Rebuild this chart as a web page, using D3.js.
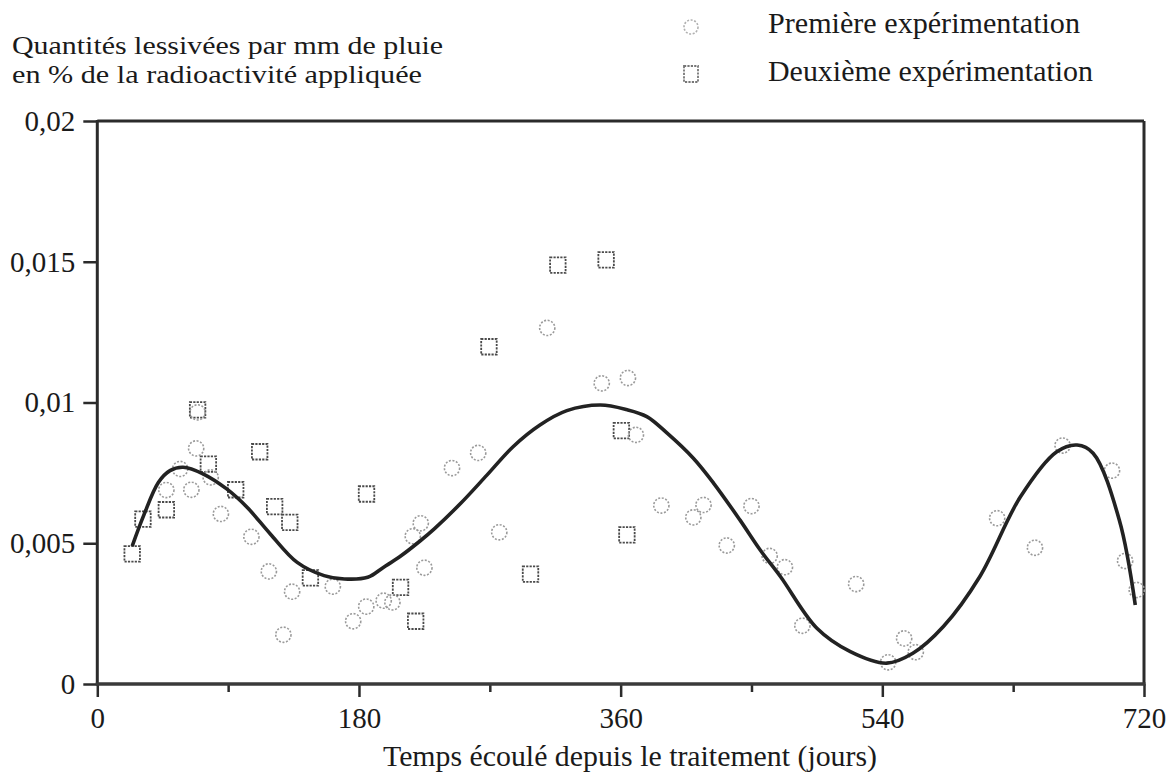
<!DOCTYPE html>
<html>
<head>
<meta charset="utf-8">
<script src="https://cdn.jsdelivr.net/npm/d3@7"></script>
<style>
  html, body { margin: 0; padding: 0; background: #fff; }
  svg { display: block; }
  text { font-family: "Liberation Serif", "Times New Roman", serif; fill: #1a1a1a; }
</style>
</head>
<body>
<svg id="chart" width="1176" height="772"></svg>
<script>
// ---------- data ----------
const titleLines = ["Quantités lessivées par mm de pluie", "en % de la radioactivité appliquée"];
const legendLabels = ["Première expérimentation", "Deuxième expérimentation"];
const xTitle = "Temps écoulé depuis le traitement (jours)";

const xMajorTicks = [0, 180, 360, 540, 720];
const xMinorTicks = [90, 270, 450, 630];
const yTicks = [0, 0.005, 0.01, 0.015, 0.02];
const yTickLabels = ["0", "0,005", "0,01", "0,015", "0,02"];

// Première expérimentation (circles): [jours, valeur]
const premiere = [
  [69, 0.00965], [68, 0.00837], [57, 0.00764], [47.5, 0.00689], [64.7, 0.0069],
  [78, 0.00734], [85, 0.00604], [106, 0.00523], [118, 0.0040], [134, 0.00328],
  [128, 0.00175], [162, 0.00346], [176, 0.00223], [185, 0.00275], [197, 0.00296],
  [203, 0.0029], [217, 0.00525], [222.5, 0.00571], [225, 0.00413], [244, 0.00767],
  [262, 0.00821], [276.5, 0.00539], [309.5, 0.01265], [347, 0.01068], [365, 0.01087],
  [370.5, 0.00885], [388, 0.00634], [417, 0.00636], [410, 0.00592], [450, 0.00632],
  [433, 0.00492], [462.5, 0.00455], [473, 0.00415], [522, 0.00355], [485, 0.00207],
  [555, 0.00162], [563, 0.00113], [544, 0.00077], [619, 0.00589], [645, 0.00484],
  [664, 0.00847], [698, 0.00758], [707, 0.00437], [715, 0.00334]
];

// Deuxième expérimentation (squares)
const deuxieme = [
  [24, 0.00462], [31.4, 0.00586], [47.5, 0.00619], [69, 0.00974], [76.4, 0.00781],
  [95.2, 0.0069], [111.7, 0.00825], [122, 0.0063], [132.4, 0.00574], [146.6, 0.00377],
  [185.2, 0.00675], [208.6, 0.00343], [219, 0.00223], [269.4, 0.01198], [298, 0.0039],
  [316.8, 0.01488], [350, 0.01507], [360.5, 0.009], [364.3, 0.0053]
];

// Ajustement (smooth curve)
const courbe = [
  [24, 0.0049], [32, 0.0060], [42, 0.00716], [50, 0.00758], [59, 0.0077],
  [73, 0.00746], [89, 0.00693], [103, 0.00628], [119, 0.00533], [137.5, 0.00432],
  [156, 0.00385], [170, 0.00373], [186, 0.00379], [197, 0.00415], [208, 0.00452],
  [222, 0.00508], [232, 0.00552], [250, 0.00642], [268, 0.00742], [286, 0.00843],
  [304.5, 0.0092], [323, 0.00971], [346, 0.00991], [364, 0.00975], [378, 0.0095],
  [392, 0.00891], [410, 0.00802], [424, 0.00713], [442, 0.00583], [456, 0.00476],
  [470, 0.00381], [495, 0.00198], [518, 0.00115], [543, 0.00074], [561, 0.00109],
  [582, 0.00204], [607, 0.00381], [635, 0.00665], [660, 0.00825], [674, 0.00849],
  [685, 0.0082], [703, 0.00583], [714, 0.00281]
];

// ---------- drawing ----------
const svg = d3.select("#chart");
const axisColor = "#2b2b2b";

const x = d3.scaleLinear().domain([0, 720]).range([97.3, 1144]);
const y = d3.scaleLinear().domain([0, 0.02]).range([684, 121]);

// frame (top + right)
svg.append("line").attr("x1", x(0)).attr("x2", x(720)).attr("y1", y(0.02)).attr("y2", y(0.02))
  .attr("stroke", axisColor).attr("stroke-width", 3);
svg.append("line").attr("x1", x(720)).attr("x2", x(720)).attr("y1", y(0.02)).attr("y2", y(0))
  .attr("stroke", axisColor).attr("stroke-width", 3);

// y axis
const yAxis = d3.axisLeft(y).tickValues(yTicks).tickSize(14).tickPadding(8)
  .tickFormat((d, i) => yTickLabels[i]);
const gy = svg.append("g").attr("transform", `translate(${x(0)},0)`).call(yAxis);
gy.select(".domain").remove();
gy.selectAll(".tick line").attr("stroke", axisColor).attr("stroke-width", 2.5);
gy.selectAll(".tick text").attr("font-size", 29).attr("fill", "#1a1a1a")
  .style("font-family", '"Liberation Serif", serif');
svg.append("line").attr("x1", x(0)).attr("x2", x(0)).attr("y1", y(0.02) - 1).attr("y2", y(0))
  .attr("stroke", axisColor).attr("stroke-width", 3);

// x axis
const xAxis = d3.axisBottom(x).tickValues(xMajorTicks).tickSize(13).tickFormat(d3.format("d"));
const gx = svg.append("g").attr("transform", `translate(0,${y(0)})`).call(xAxis);
gx.select(".domain").remove();
gx.selectAll(".tick line").attr("stroke", axisColor).attr("stroke-width", 2.5);
gx.selectAll(".tick text").attr("font-size", 29).attr("fill", "#1a1a1a")
  .attr("y", 44).attr("dy", 0)
  .style("font-family", '"Liberation Serif", serif');
const xAxisMinor = d3.axisBottom(x).tickValues(xMinorTicks).tickSize(8).tickFormat("");
const gxm = svg.append("g").attr("transform", `translate(0,${y(0)})`).call(xAxisMinor);
gxm.select(".domain").remove();
gxm.selectAll(".tick line").attr("stroke", axisColor).attr("stroke-width", 2.5);
svg.append("line").attr("x1", x(0) - 1.5).attr("x2", x(720) + 1.5).attr("y1", y(0)).attr("y2", y(0))
  .attr("stroke", "#3a3a3a").attr("stroke-width", 3.5);

// markers
const circleStyle = sel => sel.attr("fill", "none").attr("stroke", "#9a9a9a")
  .attr("stroke-width", 1.6).attr("stroke-dasharray", "2,1.6");
const squareStyle = sel => sel.attr("fill", "none").attr("stroke", "#4a4a4a")
  .attr("stroke-width", 1.8).attr("stroke-dasharray", "2.2,1.2");

const sq = 15.5;
svg.append("g").selectAll("rect").data(deuxieme).join("rect")
  .attr("x", d => x(d[0]) - sq / 2).attr("y", d => y(d[1]) - sq / 2)
  .attr("width", sq).attr("height", sq).call(squareStyle);

svg.append("g").selectAll("circle").data(premiere).join("circle")
  .attr("cx", d => x(d[0])).attr("cy", d => y(d[1])).attr("r", 7.6).call(circleStyle);

// curve
const line = d3.line().x(d => x(d[0])).y(d => y(d[1])).curve(d3.curveCatmullRom.alpha(0.5));
svg.append("path").datum(courbe).attr("d", line)
  .attr("fill", "none").attr("stroke", "#222").attr("stroke-width", 3.6)
  .attr("stroke-linejoin", "round").attr("stroke-linecap", "butt");

// title (y-axis description)
svg.append("text").attr("x", 12).attr("y", 54).attr("font-size", 25)
  .attr("textLength", 431).attr("lengthAdjust", "spacingAndGlyphs").text(titleLines[0]);
svg.append("text").attr("x", 12).attr("y", 83).attr("font-size", 25)
  .attr("textLength", 410).attr("lengthAdjust", "spacingAndGlyphs").text(titleLines[1]);

// legend
svg.append("circle").attr("cx", 691).attr("cy", 27).attr("r", 7).call(circleStyle)
  .attr("stroke", "#b0b0b0");
svg.append("rect").attr("x", 684).attr("y", 66).attr("width", 14).attr("height", 16).call(squareStyle)
  .attr("stroke", "#777");
svg.append("text").attr("x", 768).attr("y", 33).attr("font-size", 29)
  .attr("textLength", 312).attr("lengthAdjust", "spacingAndGlyphs").text(legendLabels[0]);
svg.append("text").attr("x", 768).attr("y", 81).attr("font-size", 29)
  .attr("textLength", 325).attr("lengthAdjust", "spacingAndGlyphs").text(legendLabels[1]);

// x title
svg.append("text").attr("x", 383).attr("y", 766).attr("font-size", 29)
  .attr("textLength", 494).attr("lengthAdjust", "spacingAndGlyphs").text(xTitle);
</script>
</body>
</html>
